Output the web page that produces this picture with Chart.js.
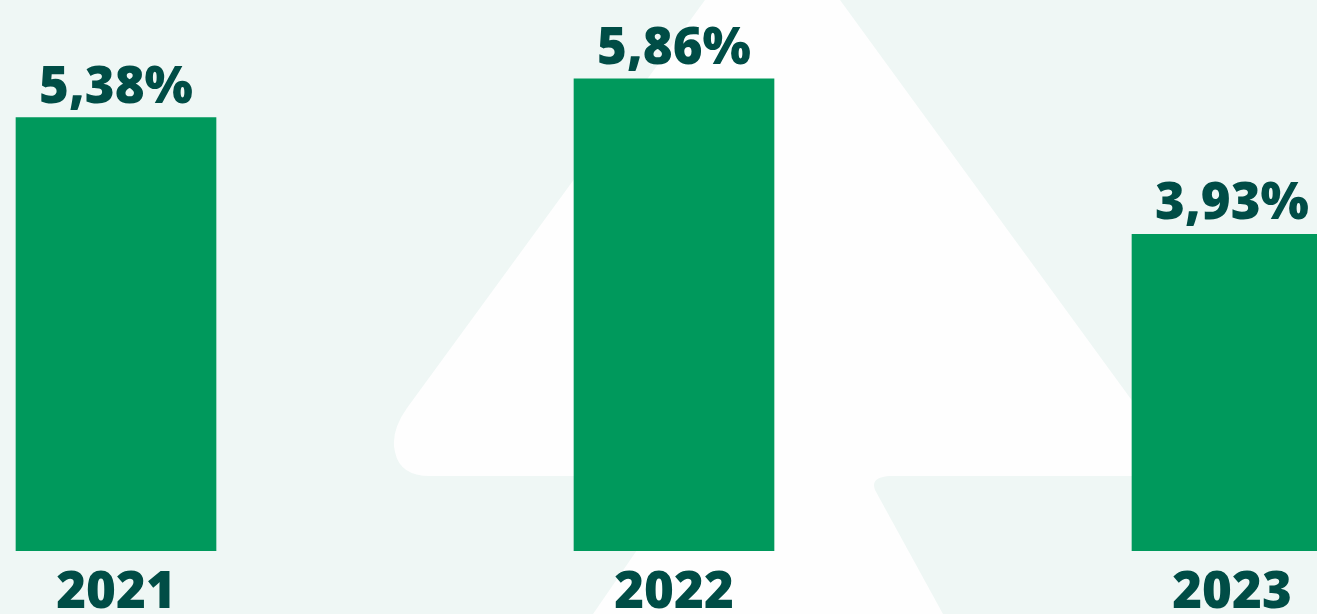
<!DOCTYPE html>
<html>
<head>
<meta charset="utf-8">
<script src="https://cdn.jsdelivr.net/npm/chart.js@4/dist/chart.umd.min.js"></script>
<style>
  html, body { margin: 0; padding: 0; width: 1317px; height: 614px; overflow: hidden; background: #eff7f5; }
  #bg { position: absolute; left: 0; top: 0; width: 1317px; height: 614px; }
  #wrap { position: absolute; left: -163px; top: 0; width: 1674px; height: 636px; }
</style>
</head>
<body>
<svg id="bg" width="1317" height="614" viewBox="0 0 1317 614">
  <path d="M705,0 L407,408 Q390,432 395,452 Q400,476 430,476 L688,476 L593,614 L943,614 L875,490 Q870,477 890,476 L1187,476 L840,0 Z" fill="#fefefe"/>
</svg>
<div id="wrap"><canvas id="c"></canvas></div>
<script>
const years = ['2021', '2022', '2023'];
const rates = [5.38, 5.86, 3.93];

const fmt = v => v.toFixed(2).replace('.', ',') + '%';
const dark = '#004d46';

const valueLabels = {
  id: 'valueLabels',
  afterDatasetsDraw(chart) {
    const ctx = chart.ctx;
    const meta = chart.getDatasetMeta(0);
    ctx.save();
    ctx.font = '800 51px "Open Sans"';
    ctx.fillStyle = dark;
    ctx.textAlign = 'center';
    ctx.textBaseline = 'alphabetic';
    meta.data.forEach((bar, i) => {
      ctx.fillText(fmt(rates[i]), bar.x, bar.y - 15);
    });
    ctx.restore();
  }
};

new Chart(document.getElementById('c'), {
  type: 'bar',
  data: {
    labels: years,
    datasets: [{
      data: rates,
      backgroundColor: '#00995c',
      borderWidth: 0,
      barThickness: 200
    }]
  },
  options: {
    responsive: true,
    maintainAspectRatio: false,
    animation: false,
    layout: { padding: 0 },
    plugins: { legend: { display: false }, tooltip: { enabled: false } },
    scales: {
      x: {
        grid: { display: false, drawTicks: false },
        border: { display: false },
        ticks: {
          padding: 17,
          color: dark,
          font: { family: '"Open Sans"', weight: 800, size: 51, lineHeight: 1 }
        }
      },
      y: {
        display: false,
        min: 0,
        max: 6.84
      }
    }
  },
  plugins: [valueLabels]
});
</script>
</body>
</html>
